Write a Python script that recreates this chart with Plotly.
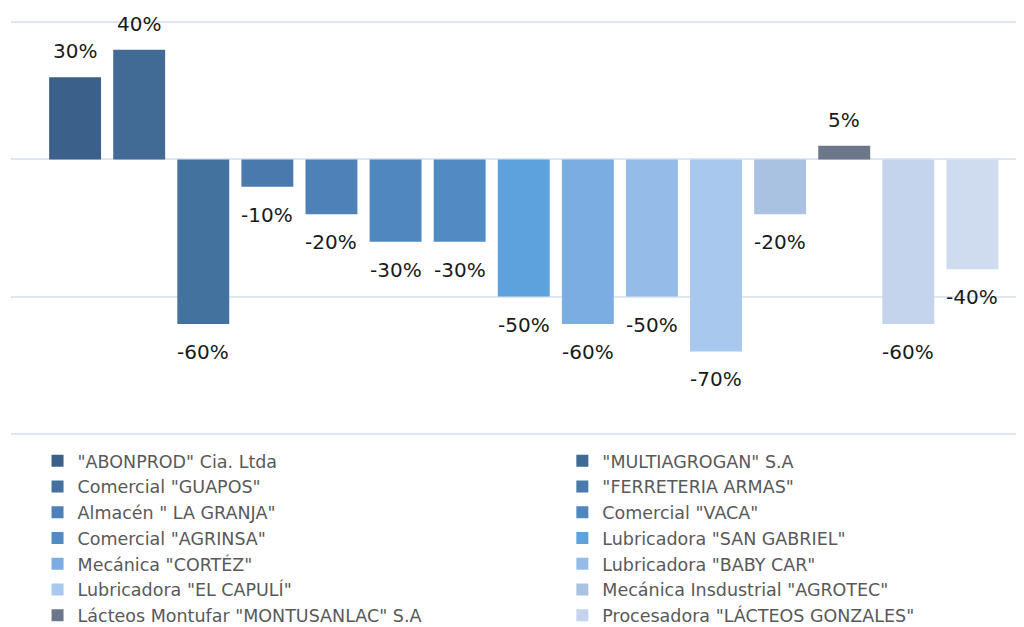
import plotly.graph_objects as go

companies = [
    '"ABONPROD" Cia. Ltda',
    '"MULTIAGROGAN" S.A',
    'Comercial "GUAPOS"',
    '"FERRETERIA ARMAS"',
    'Almacén " LA GRANJA"',
    'Comercial "VACA"',
    'Comercial "AGRINSA"',
    'Lubricadora "SAN GABRIEL"',
    'Mecánica "CORTÉZ"',
    'Lubricadora "BABY CAR"',
    'Lubricadora "EL CAPULÍ"',
    'Mecánica Insdustrial "AGROTEC"',
    'Lácteos Montufar "MONTUSANLAC" S.A',
    'Procesadora "LÁCTEOS GONZALES"',
    ' ',
]
values = [30, 40, -60, -10, -20, -30, -30, -50, -60, -50, -70, -20, 5, -60, -40]
colors = ['#3b618a', '#416a94', '#44729f', '#4a7aad', '#4d81b7', '#5087bf', '#528bc4',
          '#5da2dd', '#7badE2', '#95bce9', '#a8c8ee', '#a9c2e2', '#6c7789', '#c3d4ec', '#cfdcef']
# which legend column each entry sits in (row-major, two columns); last bar has no legend entry
legend_ids = ['legend', 'legend2'] * 7 + [None]

fig = go.Figure()
for name, v, c, lg in zip(companies, values, colors, legend_ids):
    fig.add_trace(go.Bar(
        x=[name], y=[v], name=name, width=0.81,
        marker=dict(color=c, line=dict(width=0)),
        hovertemplate='%{x}: %{y}%<extra></extra>',
        showlegend=lg is not None,
        legend=lg if lg else 'legend',
    ))
    fig.add_annotation(
        x=name, y=v, text=f'{v}%', showarrow=False,
        yanchor='bottom' if v >= 0 else 'top',
        yshift=12 if v >= 0 else -14,
        font=dict(size=20, color='#1a1a1a', family='DejaVu Sans'),
    )

legend_font = dict(size=17.5, color='#595959', family='DejaVu Sans')
fig.update_layout(
    width=1024, height=627,
    margin=dict(l=3, r=0, t=13, b=200, autoexpand=False),
    paper_bgcolor='white', plot_bgcolor='white',
    barmode='overlay',
    font=dict(family='DejaVu Sans', color='#595959'),
    xaxis=dict(type='category', categoryorder='array', categoryarray=companies,
               range=[-1, 14.93], showticklabels=False, showgrid=False, zeroline=False,
               showline=False, ticks=''),
    yaxis=dict(range=[-100.5, 50.5], tickvals=[-100, -50, 0, 50], showticklabels=False,
               showgrid=True, gridcolor='#dce7f3', gridwidth=1.5, zeroline=True,
               zerolinecolor='#dce7f3', zerolinewidth=1.5, showline=False, ticks=''),
    legend=dict(orientation='v', x=0.026, xanchor='left', y=-0.019, yanchor='top',
                font=legend_font, bgcolor='rgba(0,0,0,0)', tracegroupgap=0),
    legend2=dict(orientation='v', x=0.540, xanchor='left', y=-0.019, yanchor='top',
                 font=legend_font, bgcolor='rgba(0,0,0,0)', tracegroupgap=0),
)

fig.write_html('out.html')
